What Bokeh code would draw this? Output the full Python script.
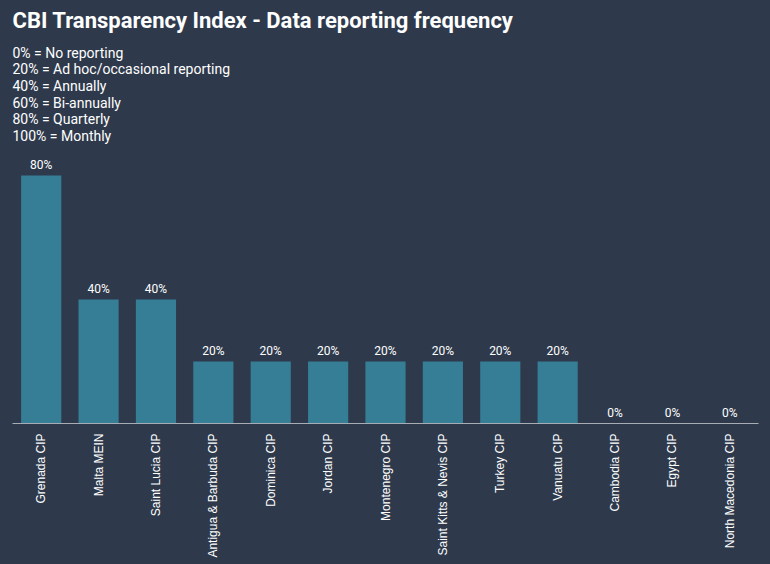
import re
import math
from bokeh.plotting import figure
from bokeh.models import FactorRange, Range1d, Title, ColumnDataSource
from bokeh.embed import file_html
from bokeh.resources import INLINE
from bokeh.core.properties import value

categories = ["Grenada CIP", "Malta MEIN", "Saint Lucia CIP", "Antigua & Barbuda CIP",
              "Dominica CIP", "Jordan CIP", "Montenegro CIP", "Saint Kitts & Nevis CIP",
              "Turkey CIP", "Vanuatu CIP", "Cambodia CIP", "Egypt CIP", "North Macedonia CIP"]
scores = [80, 40, 40, 20, 20, 20, 20, 20, 20, 20, 0, 0, 0]
score_labels = [f"{v}%" for v in scores]

title_text = "CBI Transparency Index - Data reporting frequency"
legend_lines = ["0% = No reporting", "20% = Ad hoc/occasional reporting", "40% = Annually",
                "60% = Bi-annually", "80% = Quarterly", "100% = Monthly"]

BG = "#2e3a4c"
BAR = "#367d96"
TXT = "#ffffff"

src = ColumnDataSource(dict(cat=categories, val=scores, lab=score_labels))

p = figure(width=770, height=564, x_range=FactorRange(*categories, range_padding=0),
           y_range=Range1d(0, 88.4), title=None, toolbar_location=None,
           output_backend="svg", y_axis_location=None,
           min_border_left=12, min_border_right=12, min_border_top=0, min_border_bottom=141)
p.background_fill_color = None
p.border_fill_color = None
p.outline_line_color = None
p.styles = {"background-color": BG}
p.xgrid.grid_line_color = None
p.ygrid.grid_line_color = None

p.vbar(x="cat", top="val", width=0.7, source=src, fill_color=BAR, line_color=None)
p.text(x="cat", y="val", text="lab", source=src, text_align="center",
       text_baseline="alphabetic", y_offset=-10.5, text_color=TXT,
       text_font=value("Roboto"), text_font_size="12px")

ax = p.xaxis[0]
ax.axis_line_color = "#a8adb5"
ax.axis_line_width = 1
ax.major_tick_line_color = None
ax.minor_tick_line_color = None
ax.major_tick_out = 0
ax.major_tick_in = 0
ax.major_label_standoff = 10
ax.major_label_orientation = math.pi / 2
ax.major_label_text_font = "Liberation Sans"
ax.major_label_text_font_size = "12px"
ax.major_label_text_color = TXT

legend_title = Title(text="\n".join(legend_lines), align="left", offset=0, standoff=11,
                     text_font="Roboto", text_font_style="normal", text_font_size="14px",
                     text_line_height=1.04, text_color=TXT)
main_title = Title(text=title_text, align="left", offset=0, standoff=10,
                   text_font="Roboto", text_font_style="bold", text_font_size="22px",
                   text_color=TXT)
p.add_layout(legend_title, "above")
p.add_layout(main_title, "above")

html = file_html(p, INLINE)
html = re.sub(r"<body([^>]*)>", r'<body\1 style="background-color:%s;margin:0;">' % BG, html, count=1)
open("out.html", "w").write(html)
